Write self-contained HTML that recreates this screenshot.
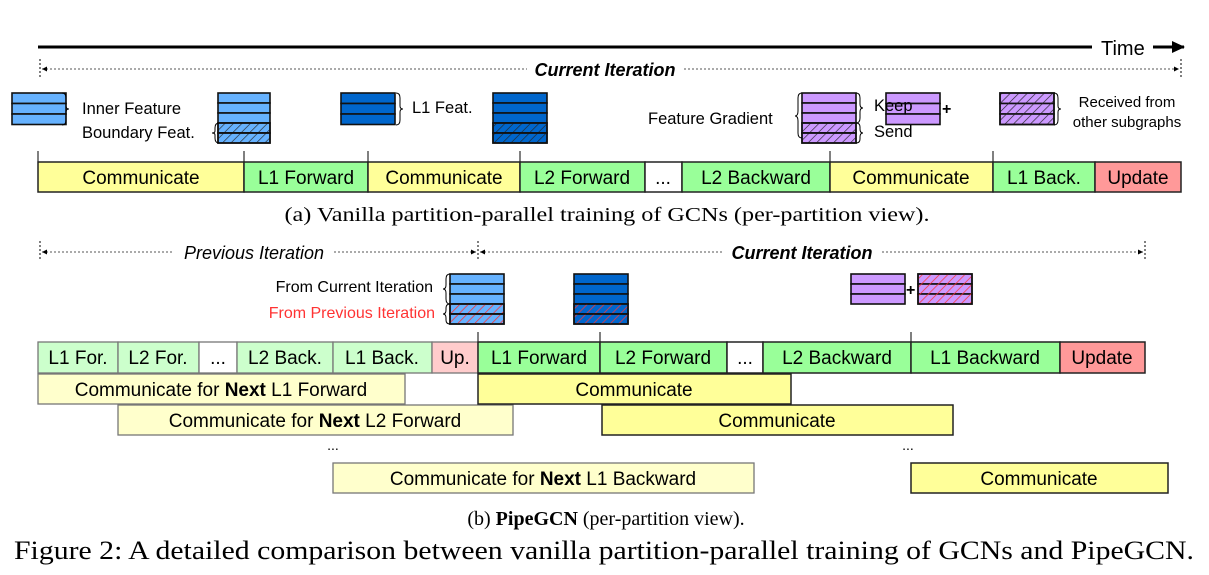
<!DOCTYPE html>
<html><head><meta charset="utf-8"><style>body{margin:0;background:#fff}svg{display:block}text{font-family:"Liberation Sans",sans-serif}text.serif{font-family:"Liberation Serif",serif}</style></head><body>
<svg width="1209" height="575" viewBox="0 0 1209 575" xmlns="http://www.w3.org/2000/svg">
<defs>
<pattern id="hb" width="6" height="6" patternUnits="userSpaceOnUse" patternTransform="rotate(45)"><line x1="0" y1="0" x2="0" y2="6" stroke="#222" stroke-width="1.3"/></pattern>
<pattern id="hr" width="6" height="6" patternUnits="userSpaceOnUse" patternTransform="rotate(45)"><line x1="0" y1="0" x2="0" y2="6" stroke="#ff3333" stroke-width="1.5"/></pattern>
<marker id="ar" markerUnits="userSpaceOnUse" markerWidth="14" markerHeight="14" refX="12" refY="7" orient="auto"><path d="M0,1 L13,7 L0,13 z" fill="#000"/></marker>
<marker id="as" markerUnits="userSpaceOnUse" markerWidth="6" markerHeight="6" refX="5" refY="3" orient="auto-start-reverse"><path d="M0,0.5 L5,3 L0,5.5 z" fill="#000"/></marker>
</defs>
<line x1="38" y1="47" x2="1092" y2="47" stroke="#000" stroke-width="3"/>
<text x="1101" y="55" font-size="20">Time</text>
<line x1="1153" y1="47" x2="1184" y2="47" stroke="#000" stroke-width="3" marker-end="url(#ar)"/>
<line x1="40" y1="59" x2="40" y2="79" stroke="#000" stroke-dasharray="2,2"/>
<line x1="1181" y1="59" x2="1181" y2="79" stroke="#000" stroke-dasharray="2,2"/>
<line x1="42" y1="69" x2="527" y2="69" stroke="#555" stroke-dasharray="2,2" marker-start="url(#as)"/>
<line x1="684" y1="69" x2="1179" y2="69" stroke="#555" stroke-dasharray="2,2" marker-end="url(#as)"/>
<text x="605" y="76" font-size="18" font-weight="bold" font-style="italic" text-anchor="middle">Current Iteration</text>
<g stroke="#111" stroke-width="1.6">
<rect x="12" y="93" width="54" height="10.5" fill="#66b2ff"/><rect x="12" y="103.5" width="54" height="10.5" fill="#66b2ff"/><rect x="12" y="114" width="54" height="10.5" fill="#66b2ff"/>
<rect x="218" y="93" width="52" height="10" fill="#66b2ff"/><rect x="218" y="103" width="52" height="10" fill="#66b2ff"/><rect x="218" y="113" width="52" height="10" fill="#66b2ff"/>
<rect x="218" y="123" width="52" height="10" fill="#66b2ff"/><rect x="218" y="123" width="52" height="10" fill="url(#hb)"/>
<rect x="218" y="133" width="52" height="10" fill="#66b2ff"/><rect x="218" y="133" width="52" height="10" fill="url(#hb)"/>
<rect x="341" y="93" width="54" height="10.5" fill="#0066cc"/><rect x="341" y="103.5" width="54" height="10.5" fill="#0066cc"/><rect x="341" y="114" width="54" height="10.5" fill="#0066cc"/>
<rect x="493" y="93" width="54" height="10" fill="#0066cc"/><rect x="493" y="103" width="54" height="10" fill="#0066cc"/><rect x="493" y="113" width="54" height="10" fill="#0066cc"/>
<rect x="493" y="123" width="54" height="10" fill="#0066cc"/><rect x="493" y="123" width="54" height="10" fill="url(#hb)"/>
<rect x="493" y="133" width="54" height="10" fill="#0066cc"/><rect x="493" y="133" width="54" height="10" fill="url(#hb)"/>
<rect x="802" y="93" width="54" height="10" fill="#cc99ff"/><rect x="802" y="103" width="54" height="10" fill="#cc99ff"/><rect x="802" y="113" width="54" height="10" fill="#cc99ff"/>
<rect x="802" y="123" width="54" height="10" fill="#cc99ff"/><rect x="802" y="123" width="54" height="10" fill="url(#hb)"/>
<rect x="802" y="133" width="54" height="10" fill="#cc99ff"/><rect x="802" y="133" width="54" height="10" fill="url(#hb)"/>
<rect x="886" y="93" width="54" height="10.5" fill="#cc99ff"/><rect x="886" y="103.5" width="54" height="10.5" fill="#cc99ff"/><rect x="886" y="114" width="54" height="10.5" fill="#cc99ff"/>
<rect x="1000" y="93" width="54" height="10.5" fill="#cc99ff"/><rect x="1000" y="103.5" width="54" height="10.5" fill="#cc99ff"/><rect x="1000" y="114" width="54" height="10.5" fill="#cc99ff"/>
<rect x="1000" y="93" width="54" height="31.5" fill="url(#hb)"/>
</g>
<g fill="none" stroke="#000" stroke-width="1">
<path d="M62,93 q4,0 4,5 v8 q0,3 3,3 q-3,0 -3,3 v8 q0,5 -4,5"/>
<path d="M219,123 q-4,0 -4,5 v3 q0,2 -3,2 q3,0 3,2 v3 q0,5 4,5"/>
<path d="M396,93 q4,0 4,5 v8 q0,3 3,3 q-3,0 -3,3 v8 q0,5 -4,5"/>
<path d="M802,93 q-4,0 -4,5 v13 q0,5 -3,5 q3,0 3,5 v12 q0,5 4,5"/>
<path d="M856,93 q4,0 4,5 v6 q0,4 3,4 q-3,0 -3,4 v6 q0,5 -4,5"/>
<path d="M856,123 q4,0 4,4 v2 q0,4 3,4 q-3,0 -3,4 v2 q0,4 -4,4"/>
<path d="M1054,93 q4,0 4,5 v8 q0,3 3,3 q-3,0 -3,3 v8 q0,5 -4,5"/>
</g>
<g font-size="16.5">
<text x="82" y="114">Inner Feature</text>
<text x="82" y="138">Boundary Feat.</text>
<text x="412" y="113">L1 Feat.</text>
<text x="648" y="124">Feature Gradient</text>
<text x="874" y="111">Keep</text>
<text x="874" y="137">Send</text>
<text x="1127" y="107" font-size="15" text-anchor="middle">Received from</text>
<text x="1127" y="127" font-size="15" text-anchor="middle">other subgraphs</text>
<text x="942" y="114" font-weight="bold" font-size="16">+</text>
</g>
<g stroke="#000" stroke-width="1"><line x1="38" y1="151" x2="38" y2="162"/><line x1="244" y1="151" x2="244" y2="162"/><line x1="368" y1="151" x2="368" y2="162"/><line x1="520" y1="151" x2="520" y2="162"/><line x1="830" y1="151" x2="830" y2="162"/><line x1="993" y1="151" x2="993" y2="162"/></g>
<g stroke="#222" stroke-width="1.5">
<rect x="38" y="162" width="206" height="30" fill="#ffff99"/>
<rect x="244" y="162" width="124" height="30" fill="#99ff99"/>
<rect x="368" y="162" width="152" height="30" fill="#ffff99"/>
<rect x="520" y="162" width="125" height="30" fill="#99ff99"/>
<rect x="645" y="162" width="37" height="30" fill="#fff"/>
<rect x="682" y="162" width="148" height="30" fill="#99ff99"/>
<rect x="830" y="162" width="163" height="30" fill="#ffff99"/>
<rect x="993" y="162" width="102" height="30" fill="#99ff99"/>
<rect x="1095" y="162" width="86" height="30" fill="#ff9999"/>
</g>
<g font-size="19" text-anchor="middle">
<text x="141" y="184">Communicate</text><text x="306" y="184">L1 Forward</text><text x="444" y="184">Communicate</text><text x="582" y="184">L2 Forward</text><text x="663" y="184">...</text><text x="756" y="184">L2 Backward</text><text x="911" y="184">Communicate</text><text x="1044" y="184">L1 Back.</text><text x="1138" y="184">Update</text>
</g>
<text class="serif" x="607" y="221" font-size="20" text-anchor="middle" textLength="645" lengthAdjust="spacingAndGlyphs">(a) Vanilla partition-parallel training of GCNs (per-partition view).</text>
<g stroke="#000" stroke-dasharray="2,2"><line x1="40" y1="241" x2="40" y2="261"/><line x1="478" y1="241" x2="478" y2="261"/><line x1="1145" y1="241" x2="1145" y2="261"/></g>
<line x1="42" y1="252" x2="174" y2="252" stroke="#555" stroke-dasharray="2,2" marker-start="url(#as)"/>
<line x1="334" y1="252" x2="476" y2="252" stroke="#555" stroke-dasharray="2,2" marker-end="url(#as)"/>
<line x1="480" y1="252" x2="722" y2="252" stroke="#555" stroke-dasharray="2,2" marker-start="url(#as)"/>
<line x1="882" y1="252" x2="1143" y2="252" stroke="#555" stroke-dasharray="2,2" marker-end="url(#as)"/>
<text x="254" y="259" font-size="18" font-style="italic" text-anchor="middle">Previous Iteration</text>
<text x="802" y="259" font-size="18" font-weight="bold" font-style="italic" text-anchor="middle">Current Iteration</text>
<g stroke="#111" stroke-width="1.6">
<rect x="450" y="274" width="54" height="10" fill="#66b2ff"/><rect x="450" y="284" width="54" height="10" fill="#66b2ff"/><rect x="450" y="294" width="54" height="10" fill="#66b2ff"/>
<rect x="450" y="304" width="54" height="10" fill="#66b2ff"/><rect x="450" y="304" width="54" height="10" fill="url(#hr)"/>
<rect x="450" y="314" width="54" height="10" fill="#66b2ff"/><rect x="450" y="314" width="54" height="10" fill="url(#hr)"/>
<rect x="574" y="274" width="54" height="10" fill="#0066cc"/><rect x="574" y="284" width="54" height="10" fill="#0066cc"/><rect x="574" y="294" width="54" height="10" fill="#0066cc"/>
<rect x="574" y="304" width="54" height="10" fill="#0066cc"/><rect x="574" y="304" width="54" height="10" fill="url(#hr)"/>
<rect x="574" y="314" width="54" height="10" fill="#0066cc"/><rect x="574" y="314" width="54" height="10" fill="url(#hr)"/>
<rect x="851" y="274" width="54" height="10" fill="#cc99ff"/><rect x="851" y="284" width="54" height="10" fill="#cc99ff"/><rect x="851" y="294" width="54" height="10" fill="#cc99ff"/>
<rect x="918" y="274" width="54" height="10" fill="#cc99ff"/><rect x="918" y="284" width="54" height="10" fill="#cc99ff"/><rect x="918" y="294" width="54" height="10" fill="#cc99ff"/>
<rect x="918" y="274" width="54" height="30" fill="url(#hr)"/>
</g>
<text x="906" y="295" font-weight="bold" font-size="16">+</text>
<g fill="none" stroke="#000" stroke-width="1">
<path d="M450,274 q-4,0 -4,5 v6 q0,4 -3,4 q3,0 3,4 v6 q0,5 4,5"/>
<path d="M450,304 q-4,0 -4,4 v2 q0,4 -3,4 q3,0 3,4 v2 q0,4 4,4"/>
</g>
<text x="433" y="292" font-size="16" text-anchor="end">From Current Iteration</text>
<text x="435" y="318" font-size="16" text-anchor="end" fill="#ff3333">From Previous Iteration</text>
<g stroke="#000"><line x1="478" y1="332" x2="478" y2="342"/><line x1="600" y1="332" x2="600" y2="342"/><line x1="911" y1="332" x2="911" y2="342"/></g>
<g stroke="#777" stroke-width="1.3">
<rect x="38" y="342" width="80" height="31" fill="#ccffcc"/>
<rect x="118" y="342" width="81" height="31" fill="#ccffcc"/>
<rect x="199" y="342" width="38" height="31" fill="#fff"/>
<rect x="237" y="342" width="96" height="31" fill="#ccffcc"/>
<rect x="333" y="342" width="99" height="31" fill="#ccffcc"/>
<rect x="432" y="342" width="46" height="31" fill="#ffcccc"/>
<rect x="38" y="374" width="367" height="30" fill="#ffffcc"/>
<rect x="118" y="405" width="395" height="30" fill="#ffffcc"/>
<rect x="333" y="463" width="421" height="30" fill="#ffffcc"/>
</g>
<g stroke="#222" stroke-width="1.5">
<rect x="478" y="342" width="122" height="31" fill="#99ff99"/>
<rect x="600" y="342" width="127" height="31" fill="#99ff99"/>
<rect x="727" y="342" width="36" height="31" fill="#fff"/>
<rect x="763" y="342" width="148" height="31" fill="#99ff99"/>
<rect x="911" y="342" width="149" height="31" fill="#99ff99"/>
<rect x="1060" y="342" width="85" height="31" fill="#ff9999"/>
<rect x="478" y="374" width="313" height="30" fill="#ffff99"/>
<rect x="602" y="405" width="351" height="30" fill="#ffff99"/>
<rect x="911" y="463" width="257" height="30" fill="#ffff99"/>
</g>
<g font-size="19" text-anchor="middle">
<text x="78" y="364">L1 For.</text><text x="158" y="364">L2 For.</text><text x="218" y="364">...</text><text x="285" y="364">L2 Back.</text><text x="382" y="364">L1 Back.</text><text x="455" y="364">Up.</text>
<text x="539" y="364">L1 Forward</text><text x="663" y="364">L2 Forward</text><text x="745" y="364">...</text><text x="837" y="364">L2 Backward</text><text x="985" y="364">L1 Backward</text><text x="1102" y="364">Update</text>
<text x="221" y="396">Communicate for <tspan font-weight="bold">Next</tspan> L1 Forward</text>
<text x="634" y="396">Communicate</text>
<text x="315" y="427">Communicate for <tspan font-weight="bold">Next</tspan> L2 Forward</text>
<text x="777" y="427">Communicate</text>
<text x="333" y="450" font-size="14">...</text><text x="908" y="450" font-size="14">...</text>
<text x="543" y="485">Communicate for <tspan font-weight="bold">Next</tspan> L1 Backward</text>
<text x="1039" y="485">Communicate</text>
</g>
<text class="serif" x="606" y="525" font-size="20" text-anchor="middle">(b) <tspan font-weight="bold">PipeGCN</tspan> (per-partition view).</text>
<text class="serif" x="604" y="559" font-size="26" text-anchor="middle" textLength="1180" lengthAdjust="spacingAndGlyphs">Figure 2: A detailed comparison between vanilla partition-parallel training of GCNs and PipeGCN.</text>
</svg>
</body></html>
